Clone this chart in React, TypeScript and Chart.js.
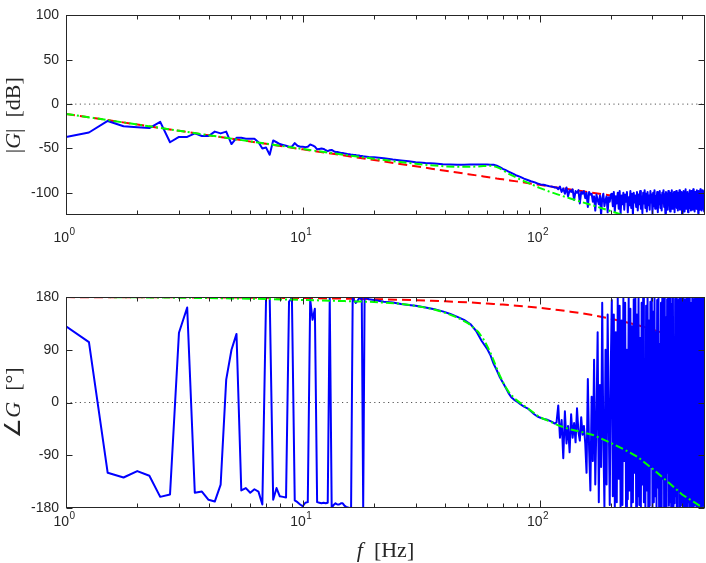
import React, { useEffect, useRef } from 'react';
import { Chart, registerables } from 'chart.js';

Chart.register(...registerables);

// ---------- measured frequency response (blue) ----------
const measFreq = [
  1, 1.25, 1.5, 1.75, 2, 2.25, 2.5, 2.75, 3, 3.25,
  3.5, 3.75, 4, 4.25, 4.5, 4.75, 5, 5.25, 5.5, 5.75,
  6, 6.25, 6.5, 6.75, 7, 7.25, 7.5, 7.75, 8, 8.25,
  8.5, 8.75, 9, 9.25, 9.5, 9.75, 10, 10.25, 10.5, 10.75,
  11, 11.25, 11.5, 11.75, 12, 12.25, 12.5, 12.75, 13, 13.25,
  13.5, 13.75, 14, 14.25, 14.5, 14.75, 15, 15.25, 15.5, 15.75,
  16, 16.25, 16.5, 16.75, 17, 17.25, 17.5, 17.75, 18, 18.25,
  19, 20, 22, 24, 26, 28, 30, 33, 36, 39,
  42, 45, 48, 51, 54, 57, 60, 62, 64, 66,
  68, 70, 72, 74, 76, 78, 80, 83, 86, 89,
  92, 95, 98, 101, 104, 107, 110, 113, 116,
  118, 120, 122, 124, 126, 128, 130, 132, 134, 136,
  138, 140, 142, 144, 146, 148, 150, 152, 154, 156,
  158, 160, 162, 164, 166, 168, 170, 172, 174, 176,
  178, 180, 182, 184, 186, 188, 190, 192, 194, 196,
  198, 200,
  202, 204, 206, 208, 210, 212, 214, 216, 218, 220,
  222, 224, 226, 228, 230, 232, 234, 236, 238, 240,
  242, 244, 246, 248, 250, 252, 254, 256, 258, 260,
  262, 264, 266, 268, 270, 272, 274, 276, 278, 280,
  282, 284, 286, 288, 290, 292, 294, 296, 298, 300,
  302, 304, 306, 308, 310, 312, 314, 316, 318, 320,
  322, 324, 326, 328, 330, 332, 334, 336, 338, 340,
  342, 344, 346, 348, 350, 352, 354, 356, 358, 360,
  362, 364, 366, 368, 370, 372, 374, 376, 378, 380,
  382, 384, 386, 388, 390, 392, 394, 396, 398, 400,
  402, 404, 406, 408, 410, 412, 414, 416, 418, 420,
  422, 424, 426, 428, 430, 432, 434, 436, 438, 440,
  442, 444, 446, 448, 450, 452, 454, 456, 458, 460,
  462, 464, 466, 468, 470, 472, 474, 476, 478, 480,
  482, 484, 486, 488, 490, 492, 494, 496, 498, 500,
];

const measMagDb = [
  -37, -32, -19, -25, -26, -27, -20, -43, -37, -37,
  -33, -36, -36, -31, -33, -31, -45, -38, -38, -39,
  -39, -39, -43, -50, -49, -57, -41, -43, -45, -46,
  -47, -48, -48, -44, -47, -48, -48, -48.5, -48, -45.6,
  -46.5, -48, -51, -50.5, -50, -50.5, -52, -53, -52, -51.7,
  -53, -54, -54, -54.5, -55, -55, -55.5, -56, -56.5, -56.5,
  -57, -57, -57.5, -57.5, -58, -58, -58.5, -58.5, -58.8, -59,
  -59.5, -60, -61, -62.5, -63.5, -64.5, -65.5, -66.5, -67, -67.8,
  -68, -68.3, -68.4, -68.2, -68, -68, -68.2, -68.3, -68.4, -69.5,
  -71, -73, -74.5, -76, -77.5, -79, -80.5, -82, -84, -85.5,
  -87, -88, -89.5, -90.5, -91, -91.8, -92.5, -93, -94,
  -94, -96, -93, -99, -95, -101, -94, -104, -97, -99,
  -96, -108, -98, -100, -97, -112, -99, -101, -98, -106,
  -100, -116, -99, -102, -101, -110, -104, -120, -102, -108,
  -113, -103, -125, -106, -101, -115, -108, -104, -122, -105,
  -110, -102,
  -101, -115, -99, -121, -104, -112, -100, -118, -98, -124,
  -103, -113, -100, -119, -102, -110, -99, -122, -105, -114,
  -98, -117, -101, -125, -100, -111, -103, -116, -99, -120,
  -102, -113, -98, -118, -104, -123, -100, -112, -97, -117,
  -101, -121, -99, -114, -103, -119, -98, -111, -102, -124,
  -100, -115, -97, -118, -104, -112, -99, -122, -101, -113,
  -98, -117, -103, -120, -100, -111, -97, -116, -102, -123,
  -99, -114, -101, -119, -98, -112, -104, -121, -100, -115,
  -97, -118, -102, -113, -99, -122, -101, -110, -98, -117,
  -103, -120, -100, -114, -97, -119, -102, -112, -99, -125,
  -101, -116, -98, -121, -100, -113, -96, -118, -103, -111,
  -99, -122, -101, -115, -97, -117, -102, -120, -98, -113,
  -100, -119, -96, -114, -103, -121, -99, -112, -101, -118,
  -97, -116, -102, -123, -98, -113, -100, -119, -96, -115,
  -101, -120, -99, -112, -97, -118, -103, -121, -98, -114,
];

const measPhaseDeg = [
  130, 103, -120, -128, -117, -125, -161, -157, 119, 162,
  -154, -152, -166, -169, -140, 39, 90, 117, -150, -146,
  -154, -148, -152, -174, 180, 180, -166, -146, -160, -161,
  -162, 172, 178, -167, -170, -174, -177, -171, -170, 176,
  141, 160, -170, -171, -172, -171, -172, -171, 178, -180,
  -175, -172, -174, -174, -172, -172, -176, -178, -179, -180,
  -180, 178, 174, 170, 173, 177, 178, 179, -180, 180,
  176, 175, 172, 170.5, 168, 166.5, 165, 162, 159, 155.5,
  151, 146, 141, 134, 122, 105, 92, 81, 66, 55,
  43, 34, 25, 16, 9, 5, 2, -3, -7, -10,
  -15, -20, -24, -26, -28, -29, -31, -33, -36,
  -34, -5, -60, -30, -95, -15, -70, -40, -85, -20,
  -60, -35, -68, -10, -50, -65, -25, -55, -40, -70,
  -120, 40, -80, -150, 10, -100, 73, -140, -30, 120,
  -170, 30, -110, 170, -60, -178, 90, -140, 150, -20,
  -175, 60,
  175, -160, 150, -178, 120, -170, 179, -130, 165, -180,
  140, -175, 178, -100, 170, -179, 90, -165, 180, -150,
  160, -178, 130, -170, 176, -120, 179, -180, 150, -160,
  178, -175, 110, -179, 170, -140, 180, -170, 60, -178,
  165, -150, 179, -180, 140, -176, 172, -110, 178, -179,
  155, -170, 180, -160, 120, -178, 175, -145, 179, -180,
  100, -175, 170, -178, 178, -130, 160, -179, 180, -165,
  145, -180, 176, -120, 179, -176, 135, -170, 180, -178,
  168, -155, 179, -180, 80, -172, 177, -160, 180, -179,
  150, -178, 175, -140, 179, -180, 120, -170, 178, -176,
  172, -165, 180, -179, 130, -178, 176, -150, 179, -180,
  160, -170, 178, -100, 180, -179, 150, -176, 170, -180,
  179, -160, 140, -178, 176, -175, 180, -130, 165, -179,
  178, -180, 110, -170, 179, -178, 160, -145, 180, -176,
  175, -179, 150, -180, 178, -165, 170, -178, 179, -180,
];

// ---------- models ----------
const modelFreq = [
  1, 1.5, 2, 3, 4, 5, 7, 10, 15, 20, 25, 30, 35, 40, 45, 50, 55, 58, 60, 62,
  64, 66, 68, 70, 72, 75, 80, 85, 90, 100, 110, 120, 135, 150, 170, 200, 230,
  260, 300, 350, 400, 450, 500,
];
// red dashed: rigid-body model
const rigidMagDb = [
  -11, -18, -23, -30.1, -35.1, -39, -44.8, -51, -58, -63, -66.9, -70.1, -72.8,
  -75.1, -77.1, -79, -80.6, -81.5, -82.1, -82.7, -83.2, -83.8, -84.3, -84.8,
  -85.3, -86, -87.1, -88.2, -89.2, -91, -92.7, -94.2, -96.2, -98, -100.2, -103,
  -105.5, -107.6, -110.1, -112.8, -115.1, -117.1, -119,
];
const rigidPhaseDeg = [
  179.8, 179.7, 179.6, 179.4, 179.3, 179.1, 178.7, 178.2, 177.2, 176.3, 175.4,
  174.5, 173.5, 172.6, 171.7, 170.8, 169.8, 169.3, 168.9, 168.5, 168.2, 167.8,
  167.4, 167.1, 166.7, 166.1, 165.2, 164.3, 163.4, 161.5, 159.7, 157.8, 155,
  152.3, 148.6, 143, 137.5, 131.9, 124.5, 115.3, 106, 96.8, 87.5,
];
// green dash-dot: flexible model
const flexMagDb = [
  -11, -18, -23, -30, -35, -38.9, -44.6, -50.6, -57.2, -61.6, -64.8, -67.2, -69,
  -70.2, -70.7, -70.7, -70.3, -69.9, -69.6, -69.5, -69.9, -71, -72.5, -74.5,
  -76.5, -79.3, -83, -86.2, -89, -94.5, -98.6, -102, -106.4, -110.2, -114.6,
  -120.6, -125.7, -130, -135.6, -141.3, -146.2, -150.5, -154.4,
];
const flexPhaseDeg = [
  180, 179.8, 179.5, 178.8, 178.2, 177.6, 176.6, 175, 173, 171.5, 169, 165, 160,
  153, 145, 135, 121, 108, 97, 85, 72, 58, 46, 35, 26, 15, 4, -4, -11, -25, -32,
  -39, -46, -50, -56, -69, -81, -93, -113, -136, -157, -170, -182,
];

// ---------- axes ----------
const freqRange = [1, 500];
const magRange = [-125, 100];
const phaseRange = [-180, 180];
const magTicks = [-100, -50, 0, 50, 100];
const phaseTicks = [-180, -90, 0, 90, 180];
const decadeTicks = [1, 10, 100];
const decadeExponents = ['0', '1', '2'];
const minorTicks = [2, 3, 4, 5, 6, 7, 8, 9, 20, 30, 40, 50, 60, 70, 80, 90, 200, 300, 400];

const AXIS_COLOR = '#262626';
const TICK_FONT = 'Liberation Sans';
const TITLE_FONT = 'Liberation Serif';

type Piece = { t: string; it?: boolean };

function drawPieces(ctx: CanvasRenderingContext2D, pieces: Piece[], size: number, cx: number, cy: number, rotate: boolean) {
  const fontOf = (p: Piece) => `${p.it ? 'italic ' : ''}${size}px "${TITLE_FONT}"`;
  let total = 0;
  const widths = pieces.map((p) => {
    ctx.font = fontOf(p);
    const w = ctx.measureText(p.t).width;
    total += w;
    return w;
  });
  ctx.save();
  ctx.translate(cx, cy);
  if (rotate) ctx.rotate(-Math.PI / 2);
  ctx.fillStyle = AXIS_COLOR;
  ctx.textBaseline = 'alphabetic';
  ctx.textAlign = 'left';
  let x = -total / 2;
  pieces.forEach((p, i) => {
    ctx.font = fontOf(p);
    ctx.fillText(p.t, x, 0);
    x += widths[i];
  });
  ctx.restore();
}

function framePlugin(opts: {
  yTicks: number[];
  labelBaseline: number;
  yTitle: Piece[];
  yTitleX: number;
  xTitle?: Piece[];
  xTitleBaseline?: number;
}) {
  return {
    id: 'matlabFrame',
    afterDraw(chart: any) {
      const { ctx, chartArea: a, scales } = chart;
      const xs = scales.x;
      const ys = scales.y;
      ctx.save();
      ctx.strokeStyle = AXIS_COLOR;
      ctx.lineWidth = 1;
      const L = Math.round(a.left) + 0.5;
      const R = Math.round(a.right) - 0.5;
      const T = Math.round(a.top) + 0.5;
      const B = Math.round(a.bottom) - 0.5;
      ctx.strokeRect(L, T, R - L, B - T);
      ctx.beginPath();
      const xt = (v: number, len: number) => {
        const px = Math.round(xs.getPixelForValue(v)) + 0.5;
        ctx.moveTo(px, B);
        ctx.lineTo(px, B - len);
        ctx.moveTo(px, T);
        ctx.lineTo(px, T + len);
      };
      decadeTicks.forEach((v) => xt(v, 7));
      minorTicks.forEach((v) => xt(v, 4));
      opts.yTicks.forEach((v) => {
        const py = Math.round(ys.getPixelForValue(v)) + 0.5;
        ctx.moveTo(L, py);
        ctx.lineTo(L + 6, py);
        ctx.moveTo(R, py);
        ctx.lineTo(R - 6, py);
      });
      ctx.stroke();

      // decade labels 10^n
      ctx.fillStyle = AXIS_COLOR;
      ctx.textBaseline = 'alphabetic';
      ctx.textAlign = 'left';
      decadeTicks.forEach((v, i) => {
        const px = xs.getPixelForValue(v);
        ctx.font = `14px "${TICK_FONT}"`;
        const w1 = ctx.measureText('10').width;
        ctx.font = `10px "${TICK_FONT}"`;
        const w2 = ctx.measureText(decadeExponents[i]).width;
        const x0 = px - (w1 + w2) / 2 - 2;
        ctx.font = `14px "${TICK_FONT}"`;
        ctx.fillText('10', x0, opts.labelBaseline);
        ctx.font = `10px "${TICK_FONT}"`;
        ctx.fillText(decadeExponents[i], x0 + w1 + 0.5, opts.labelBaseline - 7);
      });
      ctx.restore();

      const cy = (a.top + a.bottom) / 2;
      drawPieces(ctx, opts.yTitle, 22, opts.yTitleX, cy, true);
      if (opts.xTitle) {
        drawPieces(ctx, opts.xTitle, 22, (a.left + a.right) / 2, opts.xTitleBaseline || 0, false);
      }
    },
  };
}

function buildChart(
  canvas: HTMLCanvasElement,
  cfg: {
    blue: number[];
    red: number[];
    green: number[];
    range: number[];
    ticks: number[];
    padTop: number;
    xAxisHeight: number;
    plugin: any;
  }
) {
  const pts = (xs: number[], ys: number[]) => xs.map((x, i) => ({ x, y: ys[i] }));
  return new Chart(canvas, {
    type: 'line',
    data: {
      datasets: [
        {
          data: pts(modelFreq, cfg.green),
          borderColor: '#00ff00',
          borderWidth: 2,
          borderDash: [8, 3, 2, 3],
          pointRadius: 0,
          order: 0,
        },
        {
          data: pts(measFreq, cfg.blue),
          borderColor: '#0000ff',
          borderWidth: 2,
          borderJoinStyle: 'round',
          pointRadius: 0,
          order: 1,
        },
        {
          data: pts(modelFreq, cfg.red),
          borderColor: '#ff0000',
          borderWidth: 2,
          borderDash: [9, 5],
          pointRadius: 0,
          order: 2,
        },
        {
          data: pts(freqRange, [0, 0]),
          borderColor: '#555555',
          borderWidth: 1,
          borderDash: [1.2, 3.4],
          pointRadius: 0,
          order: 3,
        },
      ] as any,
    },
    options: {
      responsive: false,
      maintainAspectRatio: false,
      animation: false,
      devicePixelRatio: 1,
      parsing: false as any,
      layout: { padding: { top: cfg.padTop, right: 1, left: 0, bottom: 0 } },
      plugins: { legend: { display: false }, tooltip: { enabled: false } },
      elements: { line: { tension: 0 } },
      scales: {
        x: {
          type: 'logarithmic',
          min: freqRange[0],
          max: freqRange[1],
          grid: { display: false, drawTicks: false },
          border: { display: false },
          ticks: { display: false },
          afterFit: (s: any) => {
            s.height = cfg.xAxisHeight;
          },
        },
        y: {
          type: 'linear',
          min: cfg.range[0],
          max: cfg.range[1],
          grid: { display: false, drawTicks: false },
          border: { display: false },
          afterBuildTicks: (s: any) => {
            s.ticks = cfg.ticks.map((v) => ({ value: v }));
          },
          afterFit: (s: any) => {
            s.width = 66;
          },
          ticks: {
            autoSkip: false,
            padding: 7,
            color: AXIS_COLOR,
            font: { family: TICK_FONT, size: 14 },
            callback: (v: any) => String(v),
          },
        },
      } as any,
    },
    plugins: [cfg.plugin],
  });
}

export default function App() {
  const topRef = useRef<HTMLCanvasElement>(null);
  const botRef = useRef<HTMLCanvasElement>(null);

  useEffect(() => {
    const top = buildChart(topRef.current!, {
      blue: measMagDb,
      red: rigidMagDb,
      green: flexMagDb,
      range: magRange,
      ticks: magTicks,
      padTop: 5,
      xAxisHeight: 45,
      plugin: framePlugin({
        yTicks: magTicks,
        labelBaseline: 242,
        yTitle: [{ t: '|' }, { t: 'G', it: true }, { t: '|  [dB]' }],
        yTitleX: 20,
      }),
    });
    const bot = buildChart(botRef.current!, {
      blue: measPhaseDeg,
      red: rigidPhaseDeg,
      green: flexPhaseDeg,
      range: phaseRange,
      ticks: phaseTicks,
      padTop: 37,
      xAxisHeight: 55,
      plugin: framePlugin({
        yTicks: phaseTicks,
        labelBaseline: 266,
        yTitle: [{ t: '∠' }, { t: 'G', it: true }, { t: '  [°]' }],
        yTitleX: 20,
        xTitle: [{ t: 'f', it: true }, { t: '  [Hz]' }],
        xTitleBaseline: 297,
      }),
    });
    return () => {
      top.destroy();
      bot.destroy();
    };
  }, []);

  return (
    <div style={{ position: 'absolute', left: 0, top: 0, width: 706, height: 563, background: '#ffffff' }}>
      <canvas ref={topRef} width={706} height={260} style={{ position: 'absolute', left: 0, top: 0 }} />
      <canvas ref={botRef} width={706} height={303} style={{ position: 'absolute', left: 0, top: 260 }} />
    </div>
  );
}
